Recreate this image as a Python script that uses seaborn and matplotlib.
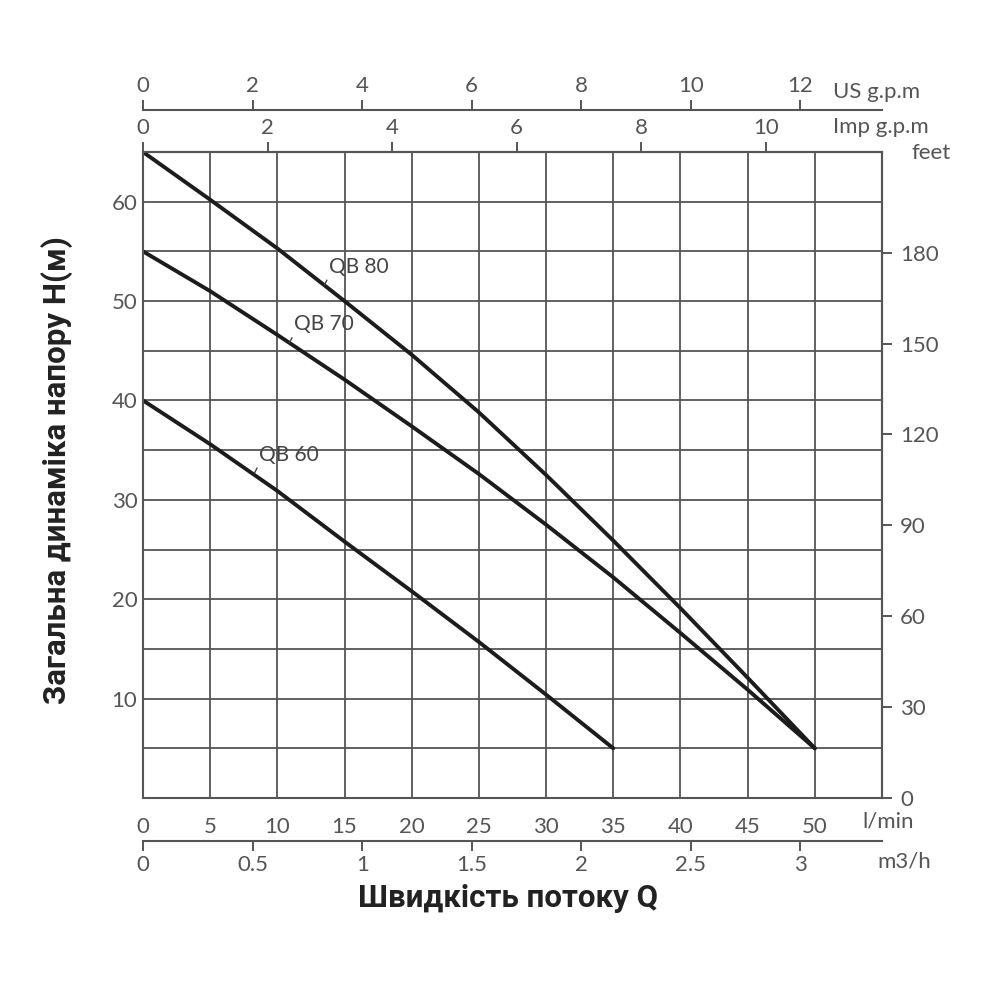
import numpy as np
import pandas as pd
import matplotlib
matplotlib.use("Agg")
import matplotlib.pyplot as plt
import seaborn as sns

# flow in l/min, head in m
flow_lmin = [0, 5, 10, 15, 20, 25, 30, 35, 40, 45, 50]
qb80_head = [65, 60.2, 55.3, 50.0, 44.6, 38.8, 32.5, 25.9, 19.1, 12.1, 5]
qb70_head = [55, 51.0, 46.6, 42.1, 37.4, 32.6, 27.5, 22.2, 16.6, 10.9, 5]
qb60_flow = [0, 5, 10, 15, 20, 25, 30, 35]
qb60_head = [40, 35.6, 30.9, 25.8, 20.8, 15.7, 10.4, 5]

lmin_ticks = [0, 5, 10, 15, 20, 25, 30, 35, 40, 45, 50]
m3h_ticks = [0, 0.5, 1, 1.5, 2, 2.5, 3]
m3h_labels = ["0", "0.5", "1", "1.5", "2", "2.5", "3"]
us_ticks = [0, 2, 4, 6, 8, 10, 12]
imp_ticks = [0, 2, 4, 6, 8, 10]
head_ticks = [10, 20, 30, 40, 50, 60]
feet_ticks = [0, 30, 60, 90, 120, 150, 180]

# scale factors as drawn on the chart (l/min per unit)
US_LMIN = 4.077
IMP_LMIN = 4.636
M3H_LMIN = 16.31
FT_PER_M = 3.2808

df = pd.concat([
    pd.DataFrame({"flow": flow_lmin, "head": qb80_head, "model": "QB 80"}),
    pd.DataFrame({"flow": flow_lmin, "head": qb70_head, "model": "QB 70"}),
    pd.DataFrame({"flow": qb60_flow, "head": qb60_head, "model": "QB 60"}),
])

sns.set_style("white")
plt.rcParams["font.family"] = ["Lato", "DejaVu Sans"]

grey = "#555555"
tick_kw = dict(labelsize=16, labelcolor=grey, color=grey, width=1.4)

fig = plt.figure(figsize=(10, 10), dpi=100)
ax = fig.add_axes([0.143, 0.202, 0.739, 0.646])

sns.lineplot(data=df, x="flow", y="head", hue="model", palette=["#1c1c1c"] * 3,
             linewidth=2.8, legend=False, ax=ax, sort=False)

ax.set_xlim(0, 55)
ax.set_ylim(0, 65)
ax.set_xticks(lmin_ticks)
ax.set_xticks(np.arange(0, 56, 5), minor=True)
ax.set_yticks(head_ticks)
ax.set_yticks(np.arange(0, 66, 5), minor=True)
ax.grid(True, which="both", color=grey, linewidth=1.3)
ax.tick_params(axis="both", which="both", length=0, **tick_kw)
ax.tick_params(axis="x", pad=14)
ax.tick_params(axis="y", pad=4)
ax.set_xlabel("")
ax.set_ylabel("")
for s in ax.spines.values():
    s.set_color(grey)
    s.set_linewidth(1.5)

# Imp g.p.m on top spine
imp = ax.secondary_xaxis("top", functions=(lambda q: q / IMP_LMIN, lambda g: g * IMP_LMIN))
imp.set_xticks(imp_ticks)
imp.tick_params(direction="out", length=7, pad=3, **tick_kw)
imp.spines["top"].set_color(grey)
imp.spines["top"].set_linewidth(1.5)

# US g.p.m above
us = ax.secondary_xaxis(1.065, functions=(lambda q: q / US_LMIN, lambda g: g * US_LMIN))
us.set_xticks(us_ticks)
us.tick_params(direction="out", length=7, pad=3, **tick_kw)
us.spines["top"].set_color(grey)
us.spines["top"].set_linewidth(1.5)

# m3/h below
m3 = ax.secondary_xaxis(-0.0666, functions=(lambda q: q / M3H_LMIN, lambda v: v * M3H_LMIN))
m3.set_xticks(m3h_ticks, m3h_labels)
m3.tick_params(direction="out", length=7, pad=3, **tick_kw)
m3.spines["bottom"].set_color(grey)
m3.spines["bottom"].set_linewidth(1.5)

# feet on the right
ft = ax.secondary_yaxis("right", functions=(lambda m: m * FT_PER_M, lambda f: f / FT_PER_M))
ft.set_yticks(feet_ticks)
ft.tick_params(direction="out", length=7, pad=6, **tick_kw)
ft.spines["right"].set_color(grey)
ft.spines["right"].set_linewidth(1.5)

# unit captions
unit_kw = dict(fontsize=16, color=grey, ha="left", va="center")
fig.text(0.833, 0.908, "US g.p.m", **unit_kw)
fig.text(0.833, 0.873, "Imp g.p.m", **unit_kw)
fig.text(0.912, 0.847, "feet", **unit_kw)
fig.text(0.862, 0.178, "l/min", **unit_kw)
fig.text(0.877, 0.138, "m3/h", **unit_kw)

# curve labels
labels = [("QB 80", 13.5, 51.6), ("QB 70", 10.9, 45.8), ("QB 60", 8.3, 32.7)]
for name, qx, hy in labels:
    ax.annotate(name, xy=(qx, hy), xytext=(3, 6), textcoords="offset points",
                ha="left", va="bottom", fontsize=15, color="#444444",
                arrowprops=dict(arrowstyle="-", color="#444444", lw=1.0,
                                shrinkA=0, shrinkB=0, relpos=(0, 0)))

fig.text(0.057, 0.53, "Загальна динаміка напору H(м)", rotation=90,
         ha="center", va="center", fontsize=22.5, fontweight="bold",
         family=["Roboto", "DejaVu Sans"], color="#222222")
fig.text(0.508, 0.102, "Швидкість потоку Q", ha="center", va="center",
         fontsize=22.5, fontweight="bold", family=["Roboto", "DejaVu Sans"],
         color="#222222")

fig.savefig("out.png", dpi=100, facecolor="white")
